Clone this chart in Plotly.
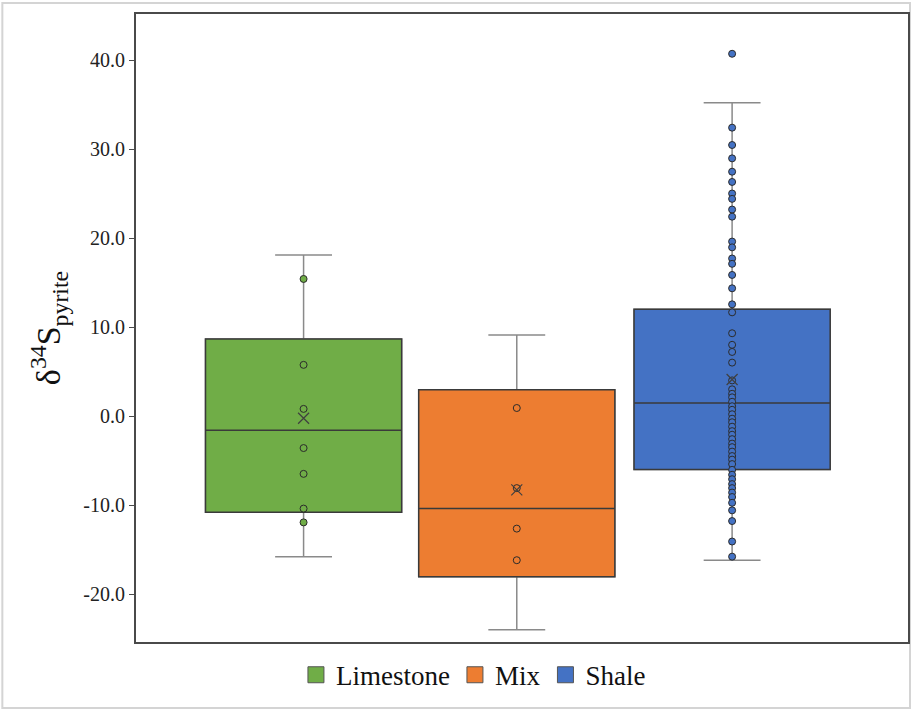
import plotly.graph_objects as go

categories = ["Limestone", "Mix", "Shale"]
colors = ["#70AD47", "#ED7D31", "#4472C4"]

q1 = [-10.8, -18.05, -6.0]
median = [-1.6, -10.4, 1.45]
q3 = [8.65, 2.95, 12.0]
whisker_low = [-15.8, -24.0, -16.2]
whisker_high = [18.1, 9.1, 35.2]
means = [-0.25, -8.3, 4.1]

limestone_pts = [15.4, 5.75, 0.8, -3.6, -6.5, -10.4, -11.95]
mix_pts = [0.9, -8.1, -12.65, -16.2]
shale_pts = [40.7, 32.4, 30.45, 28.95, 27.45, 26.3, 25.0, 24.4, 23.2, 22.4,
             19.6, 18.95, 17.7, 17.1, 15.85, 14.35, 12.55, 11.65, 9.3, 8.0,
             7.2, 6.0, 4.0, 3.0, 2.5, 2.1, 1.6, 1.1, 0.7, 0.2, -0.3, -0.7,
             -1.2, -1.7, -2.1, -2.6, -3.1, -3.5, -4.0, -4.5, -4.9, -5.4,
             -6.05, -6.6, -7.1, -7.65, -8.1, -8.6, -9.1, -9.75, -10.6, -11.8,
             -14.1, -15.8]
points = [limestone_pts, mix_pts, shale_pts]

tick_values = [-20, -10, 0, 10, 20, 30, 40]
tick_labels = ["-20.0", "-10.0", "0.0", "10.0", "20.0", "30.0", "40.0"]

positions = [0, 1.0, 2.01]
box_width = 0.92

fig = go.Figure()

# whiskers (gray)
for i, cat in enumerate(categories):
    fig.add_trace(go.Box(
        x=[positions[i]], q1=[q1[i]], median=[median[i]], q3=[q3[i]],
        lowerfence=[whisker_low[i]], upperfence=[whisker_high[i]],
        width=box_width, whiskerwidth=0.29,
        fillcolor=colors[i], line=dict(color="#8a8a8a", width=1.5),
        boxpoints=False, showlegend=False, hoverinfo="skip"))
# boxes (dark outline)
for i, cat in enumerate(categories):
    fig.add_trace(go.Box(
        x=[positions[i]], q1=[q1[i]], median=[median[i]], q3=[q3[i]],
        lowerfence=[q1[i]], upperfence=[q3[i]],
        width=box_width, whiskerwidth=0,
        fillcolor=colors[i], line=dict(color="#3a3a3a", width=1.5),
        boxpoints=False, showlegend=False, hoverinfo="skip"))
# data points
for i, cat in enumerate(categories):
    fig.add_trace(go.Scatter(
        x=[positions[i]] * len(points[i]), y=points[i], mode="markers",
        marker=dict(symbol="circle", size=7, color=colors[i],
                    line=dict(color="#2b2b2b", width=1)),
        showlegend=False, hoverinfo="skip"))
# means
fig.add_trace(go.Scatter(
    x=positions, y=means, mode="markers",
    marker=dict(symbol="x-thin-open", size=11,
                line=dict(color="#404040", width=1.2), color="#404040"),
    showlegend=False, hoverinfo="skip"))
# legend entries
for i, cat in enumerate(categories):
    fig.add_trace(go.Scatter(
        x=[None], y=[None], mode="markers", name=cat,
        marker=dict(symbol="square", size=16, color=colors[i],
                    line=dict(color="#555555", width=1))))

fig.update_layout(
    width=914, height=710,
    margin=dict(l=136, r=4, t=14, b=68),
    paper_bgcolor="white", plot_bgcolor="white",
    font=dict(family="Liberation Serif, Times New Roman, serif", color="#222222"),
    boxmode="overlay",
    showlegend=True,
    legend=dict(orientation="h", xref="container", yref="container",
                x=0.518, xanchor="center", y=0.049, yanchor="middle",
                font=dict(size=27, color="#111111"), itemwidth=30,
                tracegroupgap=0, itemclick=False),
    xaxis=dict(range=[-0.786, 2.835], showticklabels=False, ticks="",
               showgrid=False, zeroline=False, showline=True, mirror=True,
               linecolor="#4a4a4a", linewidth=2),
    yaxis=dict(range=[-25.39, 45.17], tickvals=tick_values, ticktext=tick_labels,
               ticks="outside", ticklen=5, tickcolor="#4a4a4a",
               tickfont=dict(size=20, color="#222222"),
               showgrid=False, zeroline=False, showline=True, mirror=True,
               linecolor="#4a4a4a", linewidth=2,
               title=dict(text="δ<sup>34</sup>S<sub>pyrite</sub>",
                          font=dict(size=34, color="#111111"), standoff=12)),
    shapes=[dict(type="rect", xref="paper", yref="paper",
                 x0=(2 - 136) / 774, x1=(912 - 136) / 774,
                 y0=(642 - 708) / 628, y1=(642 - 3) / 628,
                 line=dict(color="#d4d4d4", width=2), layer="below")],
)

fig.write_html("out.html", config={"displayModeBar": False},
               post_script="document.body.style.margin='0';")
